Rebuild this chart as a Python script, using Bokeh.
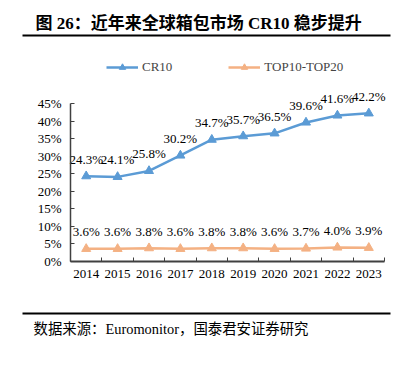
from bokeh.plotting import figure
from bokeh.models import (ColumnDataSource, Range1d, FixedTicker, PrintfTickFormatter,
                          Legend, LegendItem)
from bokeh.core.properties import value
from bokeh.embed import file_html
from bokeh.resources import INLINE

years = [2014, 2015, 2016, 2017, 2018, 2019, 2020, 2021, 2022, 2023]
cr10 = [24.3, 24.1, 25.8, 30.2, 34.7, 35.7, 36.5, 39.6, 41.6, 42.2]
top10_20 = [3.6, 3.6, 3.8, 3.6, 3.8, 3.8, 3.6, 3.7, 4.0, 3.9]
y_ticks = [0, 5, 10, 15, 20, 25, 30, 35, 40, 45]
title_text = "图 26：近年来全球箱包市场 CR10 稳步提升"
source_text = "数据来源：Euromonitor，国泰君安证券研究"

BLUE = "#5B9BD5"
ORANGE = "#F4B183"
SERIF = "Liberation Serif"
MIX = "'Liberation Serif', 'Noto Sans CJK SC'"
W, H = 409, 365

# page-pixel layout of the plotting area
AX_LEFT, AX_RIGHT = 70, 384   # page x of category band edges
AX_TOP, AX_BOT = 103, 261     # page y of 45% and 0%
x_lo, x_hi = years[0] - 0.5, years[-1] + 0.5
ppx = (AX_RIGHT - AX_LEFT) / (x_hi - x_lo)
ppy = (AX_BOT - AX_TOP) / 45.0


def X(px):
    return x_lo + (px - AX_LEFT) / ppx


def Y(py):
    return (AX_BOT - py) / ppy


src = ColumnDataSource(dict(
    x=years, cr10=cr10, top=top10_20,
    cr10_lbl=[f"{v:.1f}%" for v in cr10],
    top_lbl=[f"{v:.1f}%" for v in top10_20],
))

p = figure(width=W, height=H, output_backend="svg", toolbar_location=None,
           x_range=Range1d(X(0), X(W)), y_range=Range1d(Y(H), Y(0)),
           min_border=0, min_border_left=0, min_border_right=0,
           min_border_top=0, min_border_bottom=0)
p.outline_line_color = None
p.xgrid.visible = False
p.ygrid.visible = False

l1 = p.line("x", "cr10", source=src, line_color=BLUE, line_width=2.5)
m1 = p.scatter("x", "cr10", source=src, marker="triangle", size=9, fill_color=BLUE, line_color=BLUE)
l2 = p.line("x", "top", source=src, line_color=ORANGE, line_width=2.5)
m2 = p.scatter("x", "top", source=src, marker="triangle", size=9, fill_color=ORANGE, line_color=ORANGE)

p.text("x", "cr10", text="cr10_lbl", source=src, text_align="center", text_baseline="middle",
       y_offset=-17, text_font=value(SERIF), text_font_size="13px", text_color="black")
p.text("x", "top", text="top_lbl", source=src, text_align="center", text_baseline="middle",
       y_offset=-17, text_font=value(SERIF), text_font_size="13px", text_color="black")

xa = p.xaxis[0]
xa.fixed_location = 0
xa.bounds = (x_lo, x_hi)
xa.ticker = FixedTicker(ticks=years, minor_ticks=[y - 0.5 for y in years] + [years[-1] + 0.5])
xa.major_label_overrides = {y: str(y) for y in years}
xa.major_tick_in = 0
xa.major_tick_out = 0
xa.minor_tick_in = 4
xa.minor_tick_out = 0
xa.axis_line_color = "#404040"
xa.axis_line_width = 2
xa.minor_tick_line_color = "#404040"
xa.minor_tick_line_width = 1
xa.major_label_text_font = SERIF
xa.major_label_text_font_size = "13px"
xa.major_label_text_color = "black"
xa.major_label_standoff = 8

ya = p.yaxis[0]
ya.fixed_location = x_lo
ya.bounds = (0, 45)
ya.ticker = FixedTicker(ticks=y_ticks, minor_ticks=[])
ya.formatter = PrintfTickFormatter(format="%d%%")
ya.major_tick_in = 4
ya.major_tick_out = 0
ya.axis_line_color = "#404040"
ya.axis_line_width = 1.5
ya.major_tick_line_color = "#404040"
ya.major_label_text_font = SERIF
ya.major_label_text_font_size = "13px"
ya.major_label_text_color = "black"
ya.major_label_standoff = 9

legend = Legend(items=[LegendItem(label="CR10", renderers=[l1, m1]),
                       LegendItem(label="TOP10-TOP20", renderers=[l2, m2])],
                orientation="horizontal", location=(106, H - 75),
                border_line_color=None, background_fill_alpha=0,
                padding=0, margin=0, spacing=56, glyph_width=32, glyph_height=16,
                label_height=16, label_standoff=4,
                label_text_font=SERIF, label_text_font_size="13px")
p.add_layout(legend, "center")

# title, rules, source
p.text(x=[X(35)], y=[Y(23)], text=[title_text], text_font=value(MIX), text_font_style="bold",
       text_font_size="17px", text_baseline="middle", text_align="left", text_color="black")
p.segment(x0=[X(22), X(22)], y0=[Y(35), Y(313)], x1=[X(390), X(390)], y1=[Y(35), Y(313)],
          line_color="black", line_width=1.8)
p.text(x=[X(33)], y=[Y(328)], text=[source_text], text_font=value(MIX),
       text_font_size="14.4px", text_baseline="middle", text_align="left", text_color="black")

open("out.html", "w").write(file_html(p, INLINE))
